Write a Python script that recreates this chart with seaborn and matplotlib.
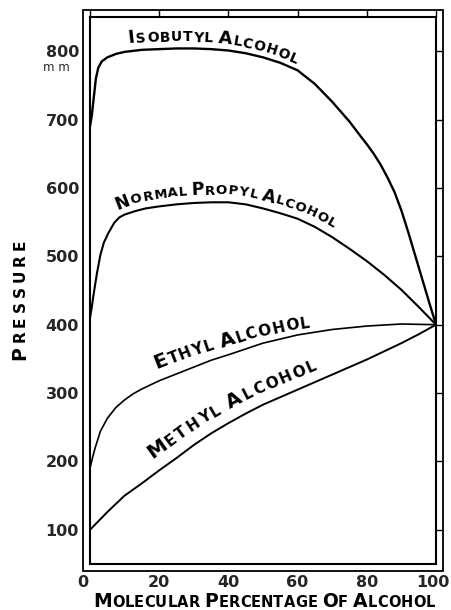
import numpy as np
import pandas as pd
import matplotlib
matplotlib.use("Agg")
import matplotlib.pyplot as plt
import seaborn as sns
from matplotlib.patches import Rectangle
from matplotlib.transforms import IdentityTransform, ScaledTranslation
from matplotlib.font_manager import FontProperties
from matplotlib.textpath import TextToPath

# Vapour pressure (mm) of alcohol-water mixtures vs. molecular percentage of alcohol
isobutyl_x = [0, 0.5, 1, 1.7, 2.4, 3.4, 5, 7.5, 10, 15, 20, 25, 30, 35, 40, 45, 50,
              55, 60, 65, 70, 75, 78, 80, 82, 84, 86, 88, 90, 92, 94, 96, 98, 100]
isobutyl_y = [690, 705, 728, 760, 776, 785, 791, 796, 799, 802, 803, 804, 804, 803, 801,
              797, 791, 783, 772, 752, 726, 697, 677, 664, 650, 634, 615, 594, 567, 535,
              501, 467, 433, 400]

propyl_x = [0, 0.5, 1, 2, 3, 4, 5.3, 7, 8.5, 10, 13, 16, 20, 25, 30, 35, 40, 45, 50,
            55, 60, 65, 70, 75, 80, 85, 90, 95, 100]
propyl_y = [410, 425, 443, 475, 502, 520, 534, 549, 557, 561, 566, 570, 573, 576, 578,
            579, 579, 576, 570, 563, 555, 543, 528, 511, 493, 473, 451, 426, 400]

ethyl_x = [0, 0.7, 1.5, 3, 5, 7.5, 10, 12.5, 15, 17.5, 20, 25, 30, 35, 40, 50, 60, 70,
           80, 90, 100]
ethyl_y = [190, 205, 220, 244, 263, 279, 290, 299, 306, 312, 318, 328, 338, 348, 356,
           373, 385, 393, 398, 401, 400]

methyl_x = [0, 5, 10, 15, 20, 25, 30, 35, 40, 45, 50, 55, 60, 65, 70, 75, 80, 85, 90, 95, 100]
methyl_y = [100, 126, 150, 168, 187, 205, 224, 241, 256, 270, 283, 294, 305, 316, 327,
            338, 349, 361, 373, 386, 400]

x_ticks = [0, 20, 40, 60, 80, 100]
y_ticks = [100, 200, 300, 400, 500, 600, 700, 800]

series = {
    "Isobutyl Alcohol": (isobutyl_x, isobutyl_y),
    "Normal Propyl Alcohol": (propyl_x, propyl_y),
    "Ethyl Alcohol": (ethyl_x, ethyl_y),
    "Methyl Alcohol": (methyl_x, methyl_y),
}
df = pd.concat(
    [pd.DataFrame({"alcohol": k, "percent": v[0], "pressure": v[1]}) for k, v in series.items()],
    ignore_index=True,
)

sns.set_theme(style="white")
plt.rcParams["font.family"] = ["DejaVu Sans"]

DPI = 100
W, H = 451, 610
fig = plt.figure(figsize=(W / DPI, H / DPI), dpi=DPI)
fig.patch.set_facecolor("white")
ax = fig.add_axes([90 / W, 1 - 564 / H, 346 / W, 547 / H])

line_widths = {
    "Isobutyl Alcohol": 1.7,
    "Normal Propyl Alcohol": 1.5,
    "Ethyl Alcohol": 1.2,
    "Methyl Alcohol": 1.4,
}
for name, lw in line_widths.items():
    sns.lineplot(data=df[df["alcohol"] == name], x="percent", y="pressure", ax=ax,
                 color="black", lw=lw, estimator=None, sort=False, legend=False)

ax.set_xlim(0, 100)
ax.set_ylim(50, 850)
ax.set_xlabel("")
ax.set_ylabel("")
ax.set_facecolor("white")
ax.grid(False)

ax.set_xticks(x_ticks)
ax.set_xticklabels([str(t) for t in x_ticks], fontsize=11.5, fontweight="bold")
ax.set_yticks(y_ticks)
ax.set_yticklabels([str(t) for t in y_ticks], fontsize=11.5, fontweight="bold")
ax.tick_params(direction="out", length=5.0, width=1.0, color="black",
               top=True, right=True, labeltop=False, labelright=False, pad=3)
for sp in ax.spines.values():
    sp.set_visible(True)
    sp.set_color("black")
    sp.set_linewidth(1.5)

# nudge the end labels of the percentage axis
xlabels = ax.get_xticklabels()
xlabels[0].set_transform(xlabels[0].get_transform()
                         + ScaledTranslation(-5 / 72, 0, fig.dpi_scale_trans))
xlabels[-1].set_transform(xlabels[-1].get_transform()
                          + ScaledTranslation(-2 / 72, 0, fig.dpi_scale_trans))

# outer border of the double frame
dx, dy = 7 / 346, 7 / 547
ax.add_patch(Rectangle((-dx, -dy), 1 + 2 * dx, 1 + 2 * dy, transform=ax.transAxes,
                       fill=False, lw=1.3, ec="black", clip_on=False))

# unit under the top pressure label
ax.text(-0.098, 776, "m m", transform=ax.get_yaxis_transform(), ha="center",
        va="center", fontsize=8.5)

_t2p = TextToPath()


def smallcaps(text, big, small):
    fb = FontProperties(family="DejaVu Sans", weight="bold", size=big)
    fs = FontProperties(family="DejaVu Sans", weight="bold", size=small)
    out = []
    for i, word in enumerate(text.split(" ")):
        if i:
            out.append((" ", fs))
        for j, ch in enumerate(word):
            out.append((ch.upper(), fb if j == 0 else fs))
    return out


def glyph_width(ch, fp):
    if ch == " ":
        return 0.3 * fp.get_size_in_points() * DPI / 72
    w, _, _ = _t2p.get_text_width_height_descent(ch, fp, ismath=False)
    return w * DPI / 72


def text_along(pts, glyphs, s0, s1, off0, off1):
    pts = np.asarray(pts, float)
    seg = np.diff(pts, axis=0)
    cum = np.concatenate([[0], np.cumsum(np.hypot(seg[:, 0], seg[:, 1]))])

    def at(s):
        return np.array([np.interp(s, cum, pts[:, 0]), np.interp(s, cum, pts[:, 1])])

    widths = [glyph_width(c, fp) for c, fp in glyphs]
    gap = ((s1 - s0) - sum(widths)) / (len(glyphs) - 1)
    s = s0
    for (c, fp), w in zip(glyphs, widths):
        p0, p1 = at(s), at(s + w)
        ang = np.arctan2(p1[1] - p0[1], p1[0] - p0[0])
        frac = (s - s0) / (s1 - s0)
        off = off0 + (off1 - off0) * frac
        p = p0 + off * np.array([-np.sin(ang), np.cos(ang)])
        if c != " ":
            fig.text(p[0], p[1], c, fontproperties=fp, rotation=np.degrees(ang),
                     rotation_mode="anchor", ha="left", va="baseline",
                     transform=IdentityTransform(), color="black")
        s += w + gap


def curve_label(name, text, x_start, x_end, big, small, off0, off1):
    xs, ys = series[name]
    xf = np.linspace(xs[0], xs[-1], 600)
    yf = np.interp(xf, xs, ys)
    pts = ax.transData.transform(np.column_stack([xf, yf]))
    seg = np.diff(pts, axis=0)
    cum = np.concatenate([[0], np.cumsum(np.hypot(seg[:, 0], seg[:, 1]))])
    s0 = np.interp(x_start, xf, cum)
    s1 = np.interp(x_end, xf, cum)
    text_along(pts, smallcaps(text, big, small), s0, s1, off0, off1)


curve_label("Isobutyl Alcohol", "Isobutyl Alcohol", 11.5, 59, 13, 10, 8, 5)
curve_label("Normal Propyl Alcohol", "Normal Propyl Alcohol", 8.7, 69, 12.5, 9.5, 8, 8)
curve_label("Ethyl Alcohol", "Ethyl Alcohol", 20.5, 64, 14.5, 11, 12, 5)
curve_label("Methyl Alcohol", "Methyl Alcohol", 20.2, 67, 14.5, 11, 13, 11)

# axis titles in small capitals
text_along([(93, 3), (445, 3)], smallcaps("Molecular percentage of alcohol", 13.5, 10.5),
           0, 342, 0, 0)
text_along([(25, 250), (25, 380)], smallcaps("Pressure", 13.5, 11), 0, 120, 0, 0)

fig.savefig("out.png", dpi=DPI, facecolor="white")
